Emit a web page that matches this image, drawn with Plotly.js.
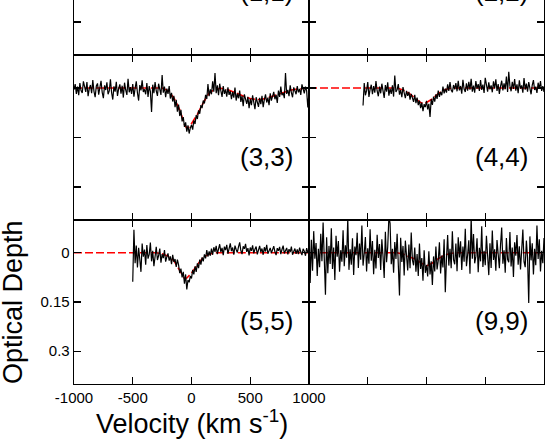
<!DOCTYPE html>
<html><head><meta charset="utf-8">
<script src="https://cdn.plot.ly/plotly-3.0.1.min.js"></script>
<style>
html,body{margin:0;padding:0;background:#fff;overflow:hidden}
#wrap{position:relative;width:545px;height:440px;overflow:hidden}
#plot{position:absolute;left:0;top:-110px;width:545px;height:550px}
</style></head>
<body><div id="wrap"><div id="plot"></div></div>
<script>
// panel labels (top row is cut off by the figure edge)
const panelLabels = ["(1,1)", "(2,2)", "(3,3)", "(4,4)", "(5,5)", "(9,9)"];
const xTickVals = [-1000, -500, 0, 500, 1000];
const xTickText = ["-1000", "-500", "0", "500", "1000"];
const yTickVals = [0, 0.15, 0.3];
const yTickText = ["0", "0.15", "0.3"];
const chanStep = 10; // km/s channel width

// (3,3) spectrum, channels from -1000 km/s
const start33 = -1000;
const tau33 = [
.005,-.012,.018,-.004,.022,-.015,.008,.015,-.02,.003,
.012,-.018,.025,.002,-.009,.016,-.024,.01,.028,-.006,
-.014,.02,.004,-.022,.013,.031,-.008,.006,-.017,.019,
.009,-.026,.014,.035,-.005,.011,-.019,.024,.002,-.011,
.017,-.007,.029,-.016,.006,.021,-.028,.013,-.003,.018,
-.012,.026,.001,-.02,.015,.038,-.009,.007,-.023,.012,
.004,.019,-.015,.027,-.006,.011,.073,-.01,.016,-.018,
.009,.024,-.013,.006,.021,-.039,.014,-.004,.028,.002,
.018,-.006,.032,.015,.041,.024,.058,.036,.072,.05,
.085,.066,.101,.088,.118,.104,.132,.113,.138,.121,
.112,.126,.098,.109,.082,.094,.068,.078,.052,.061,
.038,.047,.021,.033,-.012,.025,.004,.019,-.02,.011,
-.045,.016,-.008,.022,-.013,.009,.027,-.006,.018,.004,
.026,-.002,.021,.009,.034,.012,.029,-.001,.038,.017,
.031,.008,.042,.024,.055,.019,.036,.048,.027,.061,
.033,.052,.022,.046,.064,.028,.041,.057,.03,.049,
.024,.058,.035,.019,.044,.029,.052,.016,.038,.025,
.012,.034,.021,.045,.008,.027,-.004,.022,.015,.031,
-.045,.018,.006,.025,-.008,.014,.028,-.002,.011,.019,
-.006,.013,.003,.021,-.011,.008,.016,-.004,.009,.059,
.012];
const fit33V = [-1000,-250,-200,-150,-100,-60,-40,-20,0,50,100,150,200,250,300,350,400,450,500,550,600,650,700,750,800,850,900,950,1000];
const fit33T = [0,0,.008,.03,.066,.11,.122,.118,.108,.08,.045,.015,.004,.001,.004,.01,.018,.026,.032,.035,.034,.03,.024,.017,.011,.006,.003,.001,0];

// (4,4) spectrum, channels from -540 km/s
const start44 = -540;
const tau44 = [
.053,-.015,.022,.008,-.018,.027,.004,-.01,.019,-.006,
.014,-.021,.009,.025,-.004,.016,-.013,.007,.03,-.009,
.011,-.017,.023,.002,.018,-.008,.026,-.038,.012,.005,
-.012,.02,.006,.028,-.003,.015,.031,.009,.024,.012,
.035,.018,.027,.042,.021,.046,.029,.052,.038,.061,
.044,.07,.049,.058,.039,.065,.048,.088,.034,.051,
.026,.041,.019,.033,.008,.027,.012,.022,-.004,.016,
.002,.014,-.011,.009,-.018,.006,.013,-.009,.004,-.015,
.01,-.022,.007,-.006,.017,-.025,.003,.012,-.014,.008,
-.019,.005,-.028,.011,-.007,.014,-.021,.002,-.012,.009,
-.024,.006,-.01,.015,-.031,-.003,.011,-.017,.004,-.008,
.013,-.02,.001,-.026,.009,-.012,.018,-.005,-.022,.007,
-.014,.004,-.035,.012,-.049,-.006,.01,-.019,.003,-.027,
.008,-.011,.016,-.023,.002,-.008,.014,-.03,.005,-.013,
.011,-.018,.001,.019,-.009,-.024,.006,-.004,.015,-.016,
.003,-.021,.009,-.006,.012];
const fit44V = [-1000,-250,-200,-150,-100,-50,-25,0,50,100,150,200,250,1000];
const fit44T = [0,0,.006,.016,.03,.044,.047,.044,.033,.017,.006,.001,0,0];

// (5,5) spectrum, channels from -500 km/s
const start55 = -500;
const tau55 = [
.088,-.07,.032,-.022,.045,-.015,.02,.058,-.028,.012,
-.01,.036,-.024,.018,.005,-.031,.026,-.006,.041,.003,
-.018,.022,.009,-.013,.03,.004,.016,-.008,.027,.012,
.002,.024,.011,.035,.006,.028,.019,.043,.021,.037,
.062,.048,.075,.058,.094,.066,.112,.083,.09,.071,
.078,.052,.066,.041,.058,.032,.047,.021,.036,.014,
.026,.005,.017,-.008,.012,-.004,.009,-.013,.006,-.017,
-.003,-.021,.004,-.012,-.026,-.002,-.015,.007,-.019,-.008,
-.024,.003,-.011,-.029,-.005,-.016,.006,-.022,-.01,-.001,
-.018,-.032,-.007,.004,-.02,-.012,-.027,-.003,-.014,.008,
-.016,-.006,-.023,.002,-.011,-.019,.005,-.008,-.021,-.002,
-.013,.006,-.017,-.004,-.024,.003,-.009,-.015,.001,-.012,
-.02,-.003,.007,-.014,-.006,-.018,.004,-.01,-.022,.002,
-.008,-.015,.005,-.011,-.002,-.019,.006,-.007,-.013,.003,
-.01,.004,-.016,-.003,.007,-.012,-.005,.009,-.014,-.001,
.002];
const fit55V = [-1000,-300,-250,-200,-150,-100,-60,-40,0,50,100,150,200,1000];
const fit55T = [0,0,.003,.01,.024,.055,.078,.077,.062,.036,.014,.004,0,0];

// (9,9) spectrum, channels from -1000 km/s
const start99 = -1000;
const tau99 = [
-.085,.092,-.04,.055,-.066,.018,-.03,.071,-.012,.044,
-.058,.026,-.092,.038,.128,-.047,.062,-.021,.034,-.075,
.049,-.016,.083,-.052,.012,-.036,.058,-.008,.027,-.069,
.041,-.023,.015,-.105,.052,-.011,.036,-.044,.068,-.019,
.007,-.061,.046,-.028,.021,-.083,.039,.002,-.048,.057,
-.014,.033,-.072,.024,-.036,.065,-.009,.048,-.055,.016,
-.027,.052,-.041,.011,.077,-.064,.029,-.018,-.11,-.09,
.035,-.012,.061,-.033,.019,-.058,.044,.13,-.046,.028,
-.021,.069,-.037,.013,.054,-.025,.047,-.062,.022,.038,
-.016,.058,.004,.071,-.028,.049,.016,.085,-.008,.061,
.037,.072,-.005,.066,.026,.098,.011,.057,-.019,.051,
.024,-.032,.063,.008,.045,-.041,.12,.017,-.054,.039,
-.012,.047,-.066,.021,.035,-.028,.056,-.047,.014,-.035,
.052,-.019,.027,-.073,.041,.006,-.038,.064,-.108,.018,
-.057,.032,.011,-.044,.059,-.015,.026,-.081,.043,-.006,
.038,-.052,.017,.068,-.029,.046,-.068,.022,-.011,.055,
-.039,.014,.047,-.024,-.077,.033,-.008,.061,-.045,.02,
.029,-.063,.042,-.016,.074,-.032,.009,-.054,.036,-.02,
.051,-.008,-.071,.027,.044,-.037,.015,.153,-.05,.023,
-.029,.066,-.012,.038,-.083,.019,-.041,.057,-.006,.032,
-.045];
const fit99V = [-1000,-250,-200,-150,-100,-50,0,50,100,150,200,250,1000];
const fit99T = [0,0,.004,.011,.019,.03,.04,.031,.018,.008,.002,0,0];

function channels(start, n){ const v=[]; for(let i=0;i<n;i++) v.push(start+i*chanStep); return v; }

const panels = [
  {ax:3, start:start33, tau:tau33, fv:fit33V, ft:fit33T},
  {ax:4, start:start44, tau:tau44, fv:fit44V, ft:fit44T},
  {ax:5, start:start55, tau:tau55, fv:fit55V, ft:fit55T},
  {ax:6, start:start99, tau:tau99, fv:fit99V, ft:fit99T}
];

const traces = [];
panels.forEach(p => {
  const xa = 'x'+p.ax, ya = 'y'+p.ax;
  traces.push({x:p.fv, y:p.ft, xaxis:xa, yaxis:ya, type:'scatter', mode:'lines',
    line:{color:'#ff0000', width:1.6, dash:'8px,3px'}, hoverinfo:'skip'});
  traces.push({x:channels(p.start,p.tau.length), y:p.tau, xaxis:xa, yaxis:ya, type:'scatter', mode:'lines',
    line:{color:'black', width:1.2}, hoverinfo:'skip'});
});

const font = 'Liberation Sans, Arial, Helvetica, sans-serif';
// plot area is 494 px tall; row boundaries kept on whole pixels
const rowDom = {1:[329/494, 1], 2:[164/494, 329/494], 3:[0, 164/494]};
function sfx(col,row){ const n = 2*(row-1)+col; return n===1 ? '' : String(n); }
function xax(col, row, labels){
  return {domain: col===1?[0,0.5]:[0.5,1], anchor:'y'+sfx(col,row),
    range:[-1000,1000], tickmode:'array', tickvals:xTickVals, ticktext:xTickText,
    ticks:'inside', ticklen:7, tickwidth:1.3, tickcolor:'black',
    showline:true, linecolor:'black', linewidth:1.3, mirror:'ticks',
    showgrid:false, zeroline:false, showticklabels:labels,
    tickfont:{family:font, size:15, color:'black'}, fixedrange:true};
}
function yax(col, row, labels){
  return {domain: rowDom[row], anchor:'x'+sfx(col,row),
    range:[0.4,-0.1], tickmode:'array', tickvals:yTickVals, ticktext:yTickText,
    ticks:'inside', ticklen:7, tickwidth:1.3, tickcolor:'black',
    showline:true, linecolor:'black', linewidth:1.3, mirror:'ticks',
    showgrid:false, zeroline:false, showticklabels:labels,
    tickfont:{family:font, size:15, color:'black'}, fixedrange:true};
}

const layout = {
  width:545, height:550, margin:{l:74, r:1, t:0, b:56},
  paper_bgcolor:'white', plot_bgcolor:'white', showlegend:false,
  font:{family:font, color:'black'},
  xaxis:xax(1,1,false), yaxis:yax(1,1,false),
  xaxis2:xax(2,1,false), yaxis2:yax(2,1,false),
  xaxis3:xax(1,2,false), yaxis3:yax(1,2,false),
  xaxis4:xax(2,2,false), yaxis4:yax(2,2,false),
  xaxis5:xax(1,3,true), yaxis5:yax(1,3,true),
  xaxis6:xax(2,3,false), yaxis6:yax(2,3,false),
  annotations: []
};
panelLabels.forEach((t,i) => {
  const n = i+1, s = n===1?'':String(n);
  layout.annotations.push({text:t, xref:'x'+s, yref:'y'+s, x:635, y:0.208,
    xanchor:'center', yanchor:'middle', showarrow:false, font:{family:font, size:26, color:'black'}});
});
layout.annotations.push({text:'Optical Depth', xref:'paper', yref:'y5', x:0, y:0.15, xshift:-61,
  xanchor:'center', yanchor:'middle', textangle:-90, showarrow:false, font:{family:font, size:27, color:'black'}});
layout.annotations.push({text:'Velocity (km s<sup>-1</sup>)', xref:'x5', yref:'y5', x:0, y:0.4, yshift:-19,
  xanchor:'center', yanchor:'top', showarrow:false, font:{family:font, size:27, color:'black'}});

Plotly.newPlot('plot', traces, layout, {staticPlot:true, displayModeBar:false});
</script></body></html>
